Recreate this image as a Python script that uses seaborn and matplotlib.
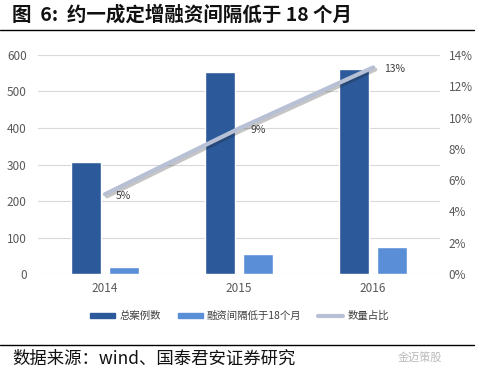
import matplotlib
matplotlib.use("Agg")
import matplotlib.pyplot as plt
import matplotlib.lines as mlines
import matplotlib.patches as mpatches
import matplotlib.patheffects as pe
import seaborn as sns
import pandas as pd

# 数据
years = ['2014', '2015', '2016']
total_cases = [307, 553, 562]
short_gap = [19, 55, 74]
ratio = [5.1, 9.3, 13.2]
ratio_labels = ['5%', '9%', '13%']
series_names = ['总案例数', '融资间隔低于18个月', '数量占比']

sns.set_theme(style='white')
plt.rcParams['font.family'] = ['Noto Sans CJK SC', 'DejaVu Sans']

dark = '#2B5999'
light = '#5A8ED6'
line_c = '#B7C0D4'
tick_c = '#595959'

df = pd.DataFrame({
    'year': years * 2,
    'value': total_cases + short_gap,
    'series': [series_names[0]] * 3 + [series_names[1]] * 3,
})

fig = plt.figure(figsize=(4.79, 3.76), dpi=100)
ax = fig.add_axes([0.079, 0.271, 0.84, 0.583])

sns.barplot(data=df, x='year', y='value', hue='series', order=years,
            palette=[dark, light], width=0.56, gap=0.2, saturation=1,
            ax=ax, legend=False)
ax.set_ylim(0, 600)
ax.set_yticks(range(0, 601, 100))
ax.set_xlim(-0.5, 2.5)
ax.yaxis.grid(True, color='#D9D9D9', lw=0.8)
ax.set_axisbelow(True)
for s in ax.spines.values():
    s.set_visible(False)
ax.set_xlabel('')
ax.set_ylabel('')
ax.tick_params(axis='both', length=0, labelsize=8.5, colors=tick_c, pad=6)
ax.tick_params(axis='y', pad=8)

ax2 = ax.twinx()
line_df = pd.DataFrame({'year': years, 'ratio': ratio})
sns.pointplot(data=line_df, x='year', y='ratio', order=years, color=line_c,
              markers='', linewidth=3, ax=ax2)
for l in ax2.lines:
    l.set_path_effects([pe.SimpleLineShadow(offset=(1.5, -1.5), alpha=0.25),
                        pe.Normal()])
ax2.set_ylim(0, 14)
ax2.set_yticks(range(0, 15, 2))
ax2.set_yticklabels([f'{v}%' for v in range(0, 15, 2)])
ax2.set_xlim(-0.5, 2.5)
for s in ax2.spines.values():
    s.set_visible(False)
ax2.set_ylabel('')
ax2.tick_params(axis='y', length=0, labelsize=8.5, colors=tick_c, pad=6)
for i, (v, t) in enumerate(zip(ratio, ratio_labels)):
    ax2.annotate(t, (i, v), xytext=(8, -1), textcoords='offset points',
                 fontsize=7.5, color='#404040', va='center')

handles = [
    mpatches.Rectangle((0, 0), 1, 1, color=dark),
    mpatches.Rectangle((0, 0), 1, 1, color=light),
    mlines.Line2D([], [], color=line_c, lw=3),
]
fig.legend(handles, series_names, loc='center', bbox_to_anchor=(0.5, 0.16),
           ncol=3, frameon=False, fontsize=7.5, handlelength=2.4,
           handleheight=0.4, handletextpad=0.4, columnspacing=1.6,
           labelcolor='#404040')

fig.text(0.025, 0.96, '图  6:  约一成定增融资间隔低于 18 个月', fontsize=14,
         fontweight='bold', va='center', color='#111111')
fig.add_artist(mlines.Line2D([0, 0.99], [0.92, 0.92], color='black', lw=1))
fig.add_artist(mlines.Line2D([0, 0.99], [0.082, 0.082], color='black', lw=1))
fig.text(0.025, 0.045, '数据来源：wind、国泰君安证券研究', fontsize=12.5,
         va='center', color='#111111')
fig.text(0.83, 0.048, '金迈策股', fontsize=8, va='center', color='#BBBBBB')

fig.savefig('out.png', dpi=100)
